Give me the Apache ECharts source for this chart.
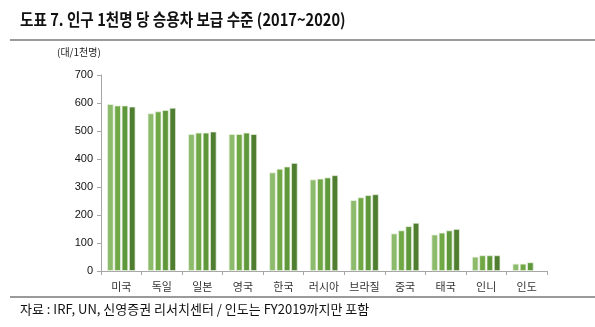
<!DOCTYPE html>
<html>
<head>
<meta charset="utf-8">
<script src="https://cdn.jsdelivr.net/npm/echarts@6/dist/echarts.min.js"></script>
<style>
  html, body { margin: 0; padding: 0; background: #fff; }
  #chart { width: 595px; height: 327px; }
</style>
</head>
<body>
<div id="chart"></div>
<script>
// Passenger cars per 1,000 people, 2017-2020
const countries = ['미국', '독일', '일본', '영국', '한국', '러시아', '브라질', '중국', '태국', '인니', '인도'];
const years = ['2017', '2018', '2019', '2020'];
const v2017 = [596, 563, 489, 489, 352, 327, 253, 134, 130, 51, 26];
const v2018 = [591, 570, 494, 489, 365, 330, 263, 145, 137, 56, 26];
const v2019 = [591, 575, 494, 494, 373, 334, 271, 160, 145, 56, 31];
const v2020 = [587, 583, 498, 489, 386, 342, 274, 172, 150, 56, null];
const yTicks = [0, 100, 200, 300, 400, 500, 600, 700];

const colors = ['#8dbb6c', '#6fa845', '#5f983b', '#4f7e31'];
const values = [v2017, v2018, v2019, v2020];

const chart = echarts.init(document.getElementById('chart'), null, { renderer: 'canvas' });

chart.setOption({
  animation: false,
  grid: { left: 101, right: 48, top: 75, bottom: 56 },
  xAxis: {
    type: 'category',
    data: countries,
    axisLine: { lineStyle: { color: '#a6a6a6', width: 1 } },
    axisTick: { show: true, length: 4, lineStyle: { color: '#a6a6a6' } },
    axisLabel: { color: '#333', fontSize: 11, margin: 10, fontFamily: 'Noto Sans CJK KR' }
  },
  yAxis: {
    type: 'value',
    min: yTicks[0],
    max: yTicks[yTicks.length - 1],
    interval: 100,
    axisLine: { show: true, lineStyle: { color: '#a6a6a6', width: 1 } },
    axisTick: { show: true, length: 4, lineStyle: { color: '#a6a6a6' } },
    splitLine: { show: false },
    axisLabel: { color: '#111', fontSize: 11, margin: 8, fontFamily: 'Liberation Sans' }
  },
  series: years.map((y, i) => ({
    name: y,
    type: 'bar',
    data: values[i],
    barCategoryGap: '30%',
    barGap: '12%',
    itemStyle: { color: colors[i], borderColor: 'rgba(235,242,228,0.9)', borderWidth: 0.8 }
  })),
  graphic: [
    {
      type: 'text', x: 20, y: 11, scaleX: 0.86,
      style: {
        text: '도표 7. 인구 1천명 당 승용차 보급 수준 (2017~2020)',
        fontSize: 17, fontWeight: 'bold', fill: '#111', fontFamily: 'Noto Sans CJK KR'
      }
    },
    { type: 'rect', shape: { x: 10, y: 39, width: 585, height: 2 }, style: { fill: '#9a9a9a' } },
    {
      type: 'text', left: 57, top: 47,
      style: { text: '(대/1천명)', fontSize: 10, fill: '#222', fontFamily: 'Noto Sans CJK KR' }
    },
    { type: 'rect', shape: { x: 10, y: 296, width: 585, height: 2 }, style: { fill: '#9a9a9a' } },
    {
      type: 'text', left: 20, top: 303,
      style: {
        text: '자료 : IRF, UN, 신영증권 리서치센터 / 인도는 FY2019까지만 포함',
        fontSize: 13, fill: '#111', fontFamily: 'Noto Sans CJK KR'
      }
    }
  ]
});
</script>
</body>
</html>
